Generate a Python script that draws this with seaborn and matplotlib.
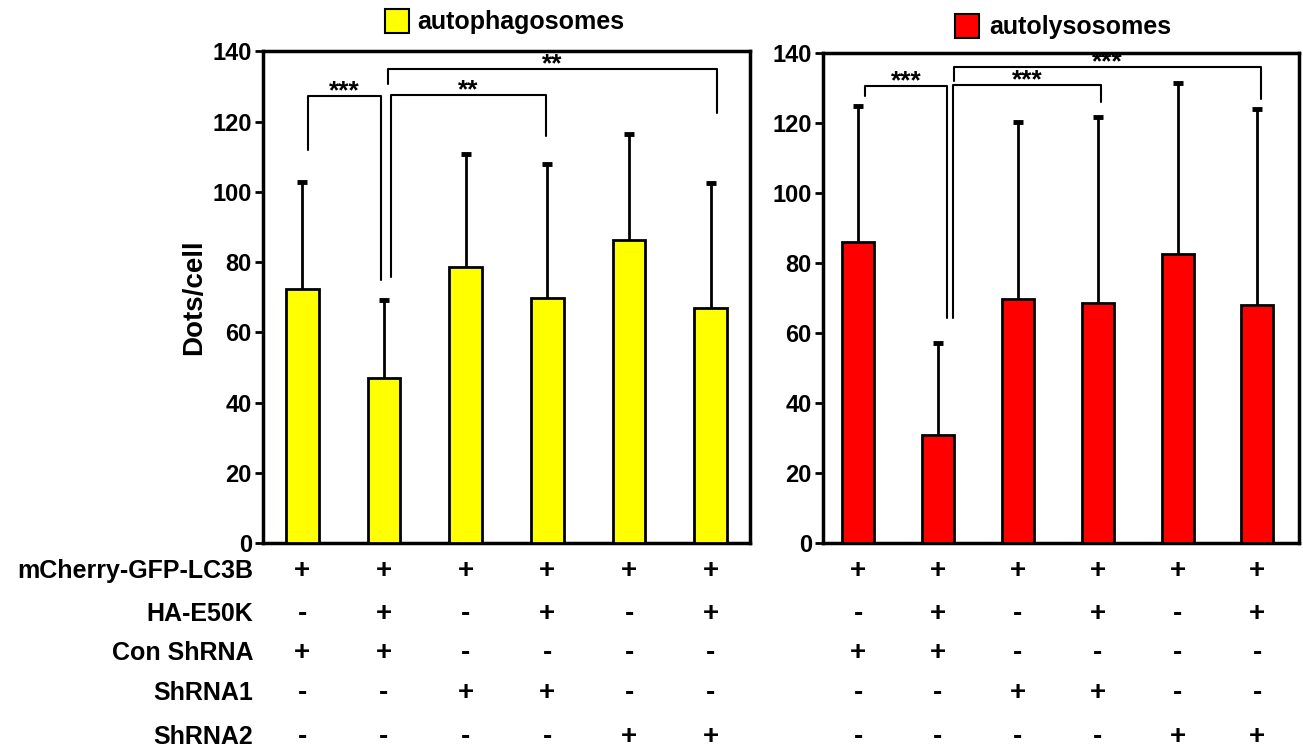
import matplotlib
matplotlib.use('Agg')

import matplotlib.pyplot as plt
import matplotlib.transforms as mtransforms
from matplotlib import font_manager
from matplotlib.patches import Rectangle
import numpy as np
import pandas as pd
import seaborn as sns

# ── Data ─────────────────────────────────────────────────────────────────────

GROUPS = ['G1', 'G2', 'G3', 'G4', 'G5', 'G6']

AUTOPHAGO_MEAN = [72.3, 47.0, 78.5, 69.7, 86.2, 66.9]
AUTOPHAGO_ERR  = [30.4, 22.2, 32.2, 38.2, 30.2, 35.5]

AUTOLYSO_MEAN  = [86.0, 30.9, 69.7, 68.6, 82.6, 68.0]
AUTOLYSO_ERR   = [38.9, 26.2, 50.6, 53.1, 48.8, 56.0]

# (x left, x right, bracket height, left leg end, right leg end, label)
AUTOPHAGO_SIG = [
    (0.07, 0.96, 127.2, 111.8, 74.8, '***'),
    (1.09, 2.98, 127.5, 75.7, 115.8, '**'),
    (1.05, 5.07, 134.9, 130.6, 122.6, '**'),
]
AUTOLYSO_SIG = [
    (0.09, 1.11, 130.6, 127.7, 64.3, '***'),
    (1.19, 3.04, 130.9, 64.3, 126.0, '***'),
    (1.20, 5.05, 136.0, 132.0, 127.0, '***'),
]

ROW_LABELS = ['mCherry-GFP-LC3B', 'HA-E50K', 'Con ShRNA', 'ShRNA1', 'ShRNA2']
ROW_SIGNS = [
    ['+', '+', '+', '+', '+', '+'],
    ['-', '+', '-', '+', '-', '+'],
    ['+', '+', '-', '-', '-', '-'],
    ['-', '-', '+', '+', '-', '-'],
    ['-', '-', '-', '-', '+', '+'],
]

Y_TICKS = [0, 20, 40, 60, 80, 100, 120, 140]

# ── Style ────────────────────────────────────────────────────────────────────

sns.set_theme(style='ticks')
plt.rcParams['font.family'] = ['Liberation Sans', 'DejaVu Sans']
plt.rcParams['font.weight'] = 'bold'
for key in ['text.color', 'axes.labelcolor', 'xtick.color', 'ytick.color', 'axes.edgecolor']:
    plt.rcParams[key] = 'black'

names = {f.name for f in font_manager.fontManager.ttflist}
if 'Liberation Sans Narrow' in names:
    NARROW = ['Liberation Sans Narrow', 'Liberation Sans']
    ROW_SIZE = 21
else:
    NARROW = ['Liberation Sans', 'DejaVu Sans']
    ROW_SIZE = 18

fig = plt.figure(figsize=(13.03, 7.49), dpi=100)
ax_l = fig.add_axes([0.2018, 0.275, 0.3738, 0.6563])
ax_r = fig.add_axes([0.6316, 0.275, 0.3653, 0.6540])

ROW_Y = [1 - 571 / 749, 1 - 614 / 749, 1 - 653 / 749, 1 - 693 / 749, 1 - 737 / 749]


def draw_panel(ax, means, errs, color, sig, xlim):
    df = pd.DataFrame({'group': GROUPS, 'value': means})
    sns.barplot(data=df, x='group', y='value', color=color, width=0.4,
                edgecolor='black', linewidth=2, saturation=1, ax=ax, zorder=3)

    # one-sided (upper) error bars
    x = np.arange(len(GROUPS))
    tops = np.array(means) + np.array(errs)
    ax.vlines(x, means, tops, color='black', lw=2, zorder=2)
    ax.scatter(x, tops, marker='_', s=60, linewidths=3.5, color='black', zorder=2)

    for x0, x1, h, y0, y1, label in sig:
        ax.plot([x0, x0, x1, x1], [y0, h, h, y1], color='black', lw=1.5,
                zorder=4, clip_on=False)
        ax.text((x0 + x1) / 2, h - 0.6, label, ha='center', va='baseline',
                fontsize=19, fontweight='bold')

    ax.set_xlim(*xlim)
    ax.set_ylim(0, 140)
    ax.set_yticks(Y_TICKS)
    ax.set_xticks([])
    ax.set_xlabel('')
    ax.set_ylabel('')
    for side in ['left', 'right', 'top', 'bottom']:
        ax.spines[side].set_visible(True)
        ax.spines[side].set_linewidth(2.5)
        ax.spines[side].set_color('black')
    ax.tick_params(axis='y', length=6, width=2, labelsize=17, pad=2, colors='black')
    for lbl in ax.get_yticklabels():
        lbl.set_fontweight('bold')

    # condition signs under each bar
    trans = mtransforms.blended_transform_factory(ax.transData, fig.transFigure)
    for r, signs in enumerate(ROW_SIGNS):
        for i, s in enumerate(signs):
            ax.text(i, ROW_Y[r], s, transform=trans, ha='center', va='center',
                    fontsize=ROW_SIZE + 2, fontweight='bold', family=NARROW,
                    clip_on=False)


draw_panel(ax_l, AUTOPHAGO_MEAN, AUTOPHAGO_ERR, '#FFFF00', AUTOPHAGO_SIG, (-0.48, 5.48))
draw_panel(ax_r, AUTOLYSO_MEAN, AUTOLYSO_ERR, '#FF0000', AUTOLYSO_SIG, (-0.44, 5.52))

ax_l.set_ylabel('Dots/cell', fontsize=20, fontweight='bold', labelpad=4)

# row labels
for r, label in enumerate(ROW_LABELS):
    fig.text(253 / 1303, ROW_Y[r], label, ha='right', va='center',
             fontsize=ROW_SIZE, fontweight='bold', family=NARROW)

# legend-like titles
for (px, py, tx, ty, color, text) in [
    (385, 33, 417, 22, '#FFFF00', 'autophagosomes'),
    (955, 38, 989, 27, '#FF0000', 'autolysosomes'),
]:
    fig.patches.append(Rectangle((px / 1303, 1 - py / 749), 24 / 1303, 24 / 749,
                                 facecolor=color, edgecolor='black', lw=1.5,
                                 transform=fig.transFigure, figure=fig))
    fig.text(tx / 1303, 1 - ty / 749, text, ha='left', va='center',
             fontsize=18, fontweight='bold')

fig.savefig('out.png', dpi=100)
